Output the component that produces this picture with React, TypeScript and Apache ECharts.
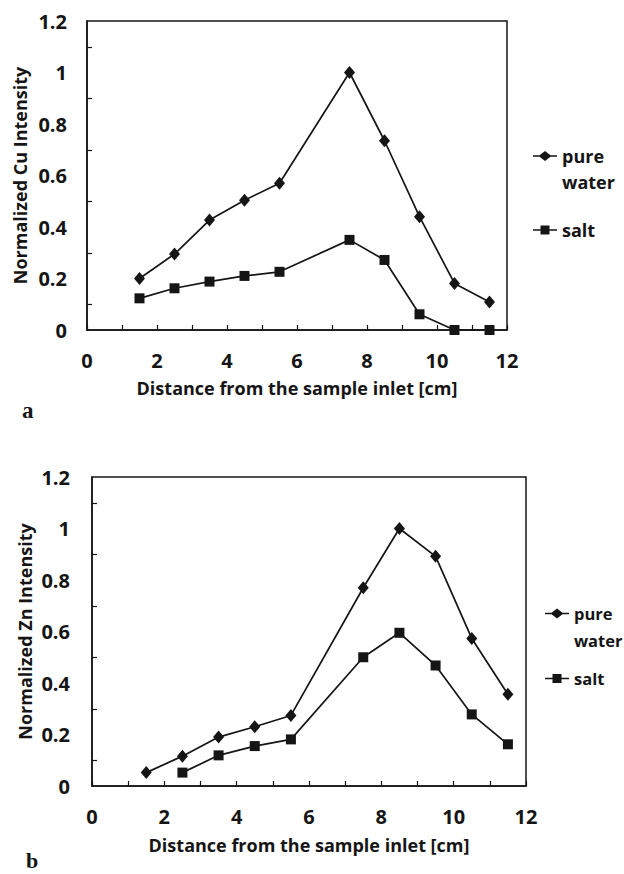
import React, { useEffect, useRef } from "react";
import * as echarts from "echarts";

const seriesNames = ["pure water", "salt"];
const panelLabels = ["a", "b"];
const yAxisNames = ["Normalized Cu Intensity", "Normalized Zn Intensity"];
const xAxisName = "Distance from the sample inlet [cm]";

const cuPureX = [1.5, 2.5, 3.5, 4.5, 5.5, 7.5, 8.5, 9.5, 10.5, 11.5];
const cuPure = [0.2, 0.295, 0.427, 0.504, 0.57, 1.0, 0.735, 0.44, 0.181, 0.109];
const cuSaltX = [1.5, 2.5, 3.5, 4.5, 5.5, 7.5, 8.5, 9.5, 10.5, 11.5];
const cuSalt = [0.123, 0.162, 0.188, 0.21, 0.226, 0.35, 0.272, 0.061, 0, 0];

const znPureX = [1.5, 2.5, 3.5, 4.5, 5.5, 7.5, 8.5, 9.5, 10.5, 11.5];
const znPure = [0.052, 0.116, 0.19, 0.23, 0.274, 0.77, 1.0, 0.892, 0.573, 0.356];
const znSaltX = [2.5, 3.5, 4.5, 5.5, 7.5, 8.5, 9.5, 10.5, 11.5];
const znSalt = [0.052, 0.119, 0.155, 0.181, 0.5, 0.595, 0.468, 0.278, 0.162];

const FONT = "'Open Sans', sans-serif";
const INK = "#151515";

const diamondIcon =
  "path://M0,4.3 L6.5,4.3 L12,0 L17.5,4.3 L24,4.3 L24,5.7 L17.5,5.7 L12,10 L6.5,5.7 L0,5.7 Z";
const squareIcon =
  "path://M0,4.3 L7.5,4.3 L7.5,0.5 L16.5,0.5 L16.5,4.3 L24,4.3 L24,5.7 L16.5,5.7 L16.5,9.5 L7.5,9.5 L7.5,5.7 L0,5.7 Z";

const zip = (xs: number[], ys: number[]) => xs.map((x, i) => [x, ys[i]]);

function axes(gi: number, yName: string, yNameGap: number, xNameGap: number, yLabelMargin: number) {
  const xAxis = {
    type: "value",
    gridIndex: gi,
    min: 0,
    max: 12,
    interval: 1,
    name: xAxisName,
    nameLocation: "middle",
    nameGap: xNameGap,
    nameMoveOverlap: false,
    nameTextStyle: { fontFamily: FONT, fontWeight: "bold", fontSize: 18, color: INK },
    axisLine: { show: true, lineStyle: { color: INK, width: 1.5 } },
    axisTick: { show: true, inside: true, length: 5, lineStyle: { color: INK, width: 1.2 } },
    axisLabel: {
      margin: 20,
      fontFamily: FONT,
      fontWeight: "bold",
      fontSize: 20,
      color: INK,
      formatter: (v: number) => (Math.round(v) % 2 === 0 ? String(Math.round(v)) : ""),
    },
    splitLine: { show: false },
  };
  const yAxis = {
    type: "value",
    gridIndex: gi,
    min: 0,
    max: 1.2,
    interval: 0.2,
    name: yName,
    nameLocation: "middle",
    nameGap: yNameGap,
    nameMoveOverlap: false,
    nameTextStyle: { fontFamily: FONT, fontWeight: "bold", fontSize: 18, color: INK },
    axisLine: { show: true, lineStyle: { color: INK, width: 1.5 } },
    axisTick: { show: false, inside: true, length: 5 },
    minorTick: { show: true, splitNumber: 2, length: 5, lineStyle: { color: INK, width: 1.2 } },
    axisLabel: {
      margin: yLabelMargin,
      fontFamily: FONT,
      fontWeight: "bold",
      fontSize: 20,
      color: INK,
    },
    splitLine: { show: false },
    minorSplitLine: { show: false },
  };
  return { xAxis, yAxis };
}

function line(name: string, gi: number, data: number[][], symbol: string, size: number | number[]) {
  return {
    type: "line",
    name,
    xAxisIndex: gi,
    yAxisIndex: gi,
    data,
    symbol,
    symbolSize: size,
    showSymbol: true,
    lineStyle: { color: INK, width: 1.7 },
    itemStyle: { color: INK },
    emphasis: { disabled: true },
  };
}

function legend(left: number, top: number, lh: number, gap: number, fs: number) {
  return {
    orient: "vertical",
    left,
    top,
    itemWidth: 24,
    itemHeight: 10,
    itemGap: gap,
    selectedMode: false,
    textStyle: { fontFamily: FONT, fontWeight: "bold", fontSize: fs, color: INK, lineHeight: lh },
    data: [
      { name: seriesNames[0], icon: diamondIcon },
      { name: seriesNames[1], icon: squareIcon },
    ],
    formatter: (n: string) => (n === seriesNames[0] ? " \npure\nwater" : n),
  };
}

export default function App() {
  const ref = useRef<HTMLDivElement>(null);
  useEffect(() => {
    if (!ref.current) return;
    const chart = echarts.init(ref.current, undefined, { renderer: "svg" });
    const a0 = axes(0, yAxisNames[0], 58, 49, 20);
    const a1 = axes(1, yAxisNames[1], 58, 50, 22);
    chart.setOption({
      animation: false,
      backgroundColor: "#ffffff",
      grid: [
        { left: 87, top: 21, width: 420, height: 309, show: true, borderColor: INK, borderWidth: 1.5 },
        { left: 92, top: 477, width: 434, height: 309, show: true, borderColor: INK, borderWidth: 1.5 },
      ],
      xAxis: [a0.xAxis, a1.xAxis],
      yAxis: [a0.yAxis, a1.yAxis],
      legend: [legend(528, 112, 26, 22, 18), legend(540, 568, 27, 11, 16.5)],
      series: [
        line(seriesNames[0], 0, zip(cuPureX, cuPure), "diamond", [11, 13]),
        line(seriesNames[1], 0, zip(cuSaltX, cuSalt), "rect", 10),
        line(seriesNames[0], 1, zip(znPureX, znPure), "diamond", [11, 13]),
        line(seriesNames[1], 1, zip(znSaltX, znSalt), "rect", 10),
      ],
      graphic: [
        {
          type: "text",
          left: 22,
          top: 399,
          style: { text: panelLabels[0], font: "bold 23px 'Liberation Serif', serif", fill: INK },
        },
        {
          type: "text",
          left: 26,
          top: 849,
          style: { text: panelLabels[1], font: "bold 22px 'Liberation Serif', serif", fill: INK },
        },
      ],
    });
    return () => chart.dispose();
  }, []);
  return (
    <div
      ref={ref}
      style={{ position: "absolute", left: 0, top: 0, width: 624, height: 874, background: "#fff" }}
    />
  );
}
